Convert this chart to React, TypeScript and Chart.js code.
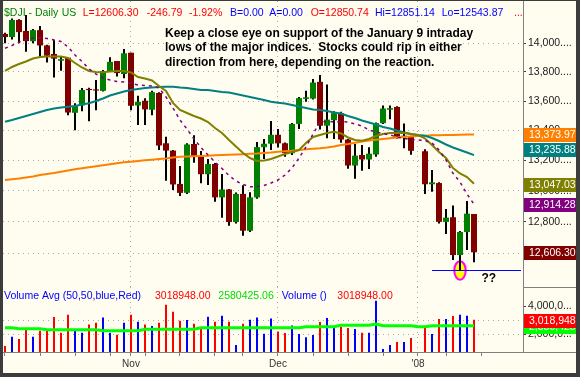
import React, { useEffect, useRef } from 'react';
import { Chart, registerables } from 'chart.js';

Chart.register(...registerables);

const FONT = "'Liberation Sans', Arial, Helvetica, sans-serif";

// ---- data (one slot per trading day; 2008-01-01 is an empty slot on this chart) ----
const dates = [
  '2007-10-08', '2007-10-09', '2007-10-10', '2007-10-11', '2007-10-12',
  '2007-10-15', '2007-10-16', '2007-10-17', '2007-10-18', '2007-10-19',
  '2007-10-22', '2007-10-23', '2007-10-24', '2007-10-25', '2007-10-26',
  '2007-10-29', '2007-10-30', '2007-10-31', '2007-11-01', '2007-11-02',
  '2007-11-05', '2007-11-06', '2007-11-07', '2007-11-08', '2007-11-09',
  '2007-11-12', '2007-11-13', '2007-11-14', '2007-11-15', '2007-11-16',
  '2007-11-19', '2007-11-20', '2007-11-21', '2007-11-23', '2007-11-26',
  '2007-11-27', '2007-11-28', '2007-11-29', '2007-11-30', '2007-12-03',
  '2007-12-04', '2007-12-05', '2007-12-06', '2007-12-07', '2007-12-10',
  '2007-12-11', '2007-12-12', '2007-12-13', '2007-12-14', '2007-12-17',
  '2007-12-18', '2007-12-19', '2007-12-20', '2007-12-21', '2007-12-24',
  '2007-12-26', '2007-12-27', '2007-12-28', '2007-12-31', '2008-01-01',
  '2008-01-02', '2008-01-03', '2008-01-04', '2008-01-07', '2008-01-08',
  '2008-01-09', '2008-01-10', '2008-01-11',
];

const opens = [
  14066, 14044, 14165, 14087, 14015, 14093, 13985, 13925, 13878, 13899,
  13520, 13570, 13683, 13680, 13670, 13802, 13876, 13786, 13934, 13570,
  13602, 13541, 13655, 13315, 13266, 13046, 12988, 13310, 13226, 13110,
  13177, 12958, 13010, 12799, 12981, 12743, 12958, 13289, 13312, 13372,
  13315, 13249, 13445, 13615, 13617, 13732, 13433, 13470, 13518, 13340,
  13167, 13237, 13207, 13240, 13450, 13541, 13560, 13358, 13360, null,
  13262, 13044, 13052, 12800, 12830, 12589, 12735, 12850.74,
];
const highs = [
  14075, 14175, 14170, 14200, 14100, 14122, 13990, 14023, 13906, 13899,
  13585, 13690, 13692, 13745, 13814, 13902, 13876, 13960, 13934, 13636,
  13620, 13670, 13660, 13359, 13270, 13164, 13315, 13368, 13264, 13210,
  13184, 13111, 13013, 12990, 13037, 12992, 13324, 13343, 13465, 13411,
  13320, 13451, 13628, 13670, 13751, 13779, 13713, 13530, 13527, 13343,
  13310, 13303, 13288, 13455, 13570, 13570, 13565, 13448, 13366, null,
  13275, 13137, 13057, 12883, 12905, 12741, 12935, 12851.14,
];
const lows = [
  14000, 14027, 14000, 13941, 14000, 13906, 13865, 13761, 13809, 13504,
  13403, 13530, 13463, 13537, 13665, 13800, 13768, 13757, 13537, 13437,
  13437, 13504, 13270, 13067, 13007, 12967, 12980, 13186, 13050, 13039,
  12930, 12827, 12776, 12790, 12711, 12736, 12950, 13210, 13270, 13286,
  13226, 13237, 13411, 13595, 13610, 13407, 13348, 13343, 13319, 13146,
  13080, 13133, 13144, 13226, 13445, 13476, 13345, 13281, 13239, null,
  12980, 12995, 12790, 12722, 12558, 12492, 12621, 12543.87,
];
const closes = [
  14043.73, 14164.53, 14078.69, 14015.12, 14093.08, 13984.80, 13912.94, 13892.54, 13888.96, 13522.02,
  13566.97, 13676.23, 13675.25, 13671.92, 13806.70, 13870.26, 13792.47, 13930.01, 13567.87, 13595.10,
  13543.40, 13660.94, 13300.02, 13266.29, 13042.74, 12987.55, 13307.09, 13231.01, 13110.05, 13176.79,
  12958.44, 13010.14, 12799.04, 12980.88, 12743.44, 12958.44, 13289.45, 13311.73, 13371.72, 13314.57,
  13248.73, 13444.96, 13619.89, 13625.58, 13727.03, 13432.77, 13473.90, 13517.96, 13339.85, 13167.20,
  13232.47, 13207.27, 13245.64, 13450.65, 13549.33, 13551.69, 13359.61, 13365.87, 13264.82, null,
  13043.96, 13056.72, 12800.18, 12827.49, 12589.07, 12735.31, 12853.09, 12606.30,
];
const priorClose = 14066.01;

const volumes = [
  1140000, 1810000, 1640000, 2360000, 1810000, 2240000, 2340000, 3210000, 2090000, 3380000,
  2290000, 2090000, 2670000, 2810000, 3170000, 2090000, 1950000, 2810000, 3380000, 2880000,
  2670000, 2570000, 2810000, 4090000, 3590000, 2950000, 3000000, 2740000, 2450000, 3240000,
  2880000, 3310000, 2880000, 1210000, 2740000, 3020000, 3170000, 2020000, 3100000, 2170000,
  2070000, 2600000, 2000000, 1760000, 1930000, 2860000, 3140000, 2500000, 2500000, 2430000,
  2360000, 2090000, 2090000, 4380000, 930000, 1210000, 1430000, 1430000, 1710000, null,
  2450000, 2000000, 3070000, 3070000, 3290000, 3380000, 3310000, 3018948,
];
const volumeAvg = [
  2450000, 2450000, 2380000, 2380000, 2380000, 2380000, 2300000, 2300000, 2300000, 2300000,
  2300000, 2300000, 2300000, 2300000, 2240000, 2240000, 2240000, 2240000, 2240000, 2240000,
  2340000, 2340000, 2340000, 2340000, 2340000, 2340000, 2340000, 2340000, 2450000, 2450000,
  2450000, 2450000, 2450000, 2450000, 2450000, 2450000, 2450000, 2450000, 2450000, 2450000,
  2450000, 2450000, 2450000, 2520000, 2520000, 2520000, 2520000, 2520000, 2620000, 2620000,
  2620000, 2620000, 2620000, 2710000, 2590000, 2590000, 2590000, 2590000, 2590000, 2520000,
  2520000, 2590000, 2590000, 2590000, 2590000, 2590000, 2590000, 2580425.06,
];

const sma10 = [
  13965, 13984.6, 14009.1, 14026.7, 14037.2, 14039.3, 14033.7, 14023.1, 14012.6, 13974.1,
  13918, 13872.8, 13820.6, 13786, 13758.4, 13744.6, 13734.2, 13730.8, 13720.4, 13710.1,
  13706.7, 13703.2, 13689.5, 13627.8, 13552.8, 13471.5, 13410.8, 13343.7, 13286.9, 13236.9,
  13190.5, 13147.7, 13101.5, 13065.4, 13042.5, 13028.1, 13028.1, 13036, 13052.3, 13072,
  13104.8, 13150.9, 13217, 13290.2, 13377.2, 13458, 13460, 13460, 13460, 13458,
  13444.5, 13431, 13404.1, 13390.6, 13380.6, 13370.5, 13357.1, 13347.1, 13340.4, 13337,
  13333.7, 13316.9, 13270.2, 13203.7, 13116, 13058.9, 12980.5, 12914.28,
];
const sma20 = [
  13806.8, 13834.5, 13855.3, 13872.8, 13893.7, 13904.1, 13907.6, 13907.6, 13907.6, 13897.1,
  13862.3, 13831, 13806.8, 13799.8, 13797.7, 13803.3, 13806.8, 13806.8, 13796.3, 13765.3,
  13754.9, 13741.1, 13703.2, 13668.9, 13586.9, 13539.2, 13518.8, 13498.5, 13481.6, 13458,
  13417.6, 13383.9, 13337, 13293.6, 13250.2, 13217, 13197.1, 13200.4, 13210.4, 13226.9,
  13243.6, 13256.9, 13270.2, 13316.9, 13357.1, 13370.5, 13383.9, 13392.7, 13380.6, 13353.8,
  13337, 13332.4, 13343.7, 13363.8, 13377.2, 13383.9, 13385.9, 13383.9, 13377.2, 13370.5,
  13347.1, 13303.6, 13256.9, 13217, 13150.9, 13114.7, 13091.7, 13047.03,
];
const sma50 = [
  13460, 13471.5, 13485, 13498.5, 13512, 13525.6, 13539, 13549, 13556, 13561.6,
  13566, 13576.6, 13584.8, 13600.5, 13617.6, 13638, 13651.7, 13665.5, 13675.8, 13682.6,
  13689.5, 13693, 13696.4, 13698.4, 13698.4, 13693, 13689.5, 13682.6, 13675.8, 13675.8,
  13669, 13662, 13658.6, 13648.3, 13638, 13627.8, 13617.6, 13607.4, 13595.7, 13588.9,
  13583.4, 13573.2, 13563, 13552.8, 13542.6, 13539.2, 13532.4, 13522.2, 13515.4, 13498.5,
  13485, 13468.1, 13454.6, 13441.1, 13424.3, 13414.2, 13400.7, 13387.3, 13377.2, 13370.5,
  13365.8, 13350.4, 13330.3, 13306.9, 13286.9, 13270.2, 13253.5, 13235.88,
];
const sma200 = [
  13072, 13076.6, 13081.8, 13088.4, 13095, 13104.8, 13111.4, 13118, 13126.5, 13134.4,
  13142.3, 13149, 13155.5, 13162.1, 13168.7, 13175.3, 13181.9, 13188.5, 13192.5, 13197.1,
  13201.7, 13205.7, 13210.4, 13213.7, 13220.3, 13225.6, 13226.9, 13228.9, 13230.3, 13232.3,
  13234.9, 13236.9, 13238.9, 13240.2, 13242.2, 13244.9, 13246.9, 13250.2, 13253.5, 13258.9,
  13262.2, 13265.5, 13270.2, 13274.9, 13278.9, 13281.6, 13286.9, 13293.6, 13303.6, 13310.2,
  13318.9, 13327, 13333.7, 13339, 13343.7, 13348.4, 13353.8, 13357.1, 13360.5, 13363.8,
  13365.8, 13368.6, 13369.2, 13370.5, 13370.5, 13371.9, 13373.2, 13373.97,
];

const priceTicks = [12600, 12800, 13000, 13200, 13400, 13600, 13800, 14000];
const volumeTicks = [2000000, 3000000, 4000000];
const volumeGridValues = [2000000, 3000000];
const minorTickSlots = [0, 5, 10, 15, 20, 25, 30, 34, 44, 49, 54, 63, 68];
const supportDate = '2008-01-09';
const supportLineStartDate = '2008-01-03';

const noteLines = [
  'Keep a close eye on support of the January 9 intraday',
  'lows of the major indices.  Stocks could rip in either',
  'direction from here, depending on the reaction.',
];

const MONTHS = ['Jan', 'Feb', 'Mar', 'Apr', 'May', 'Jun', 'Jul', 'Aug', 'Sep', 'Oct', 'Nov', 'Dec'];

// ---- helpers ----
const fmt2 = (v: number) =>
  v.toLocaleString('en-US', { minimumFractionDigits: 2, maximumFractionDigits: 2 });
const fmtInt = (v: number) => Math.round(v).toLocaleString('en-US');

const monthTicks = dates
  .map((d, i) => ({ d, i }))
  .filter(({ d, i }) => i > 0 && d.slice(5, 7) !== dates[i - 1].slice(5, 7))
  .map(({ d, i }) => ({
    slot: i,
    label: d.slice(5, 7) === '01' ? "'" + d.slice(2, 4) : MONTHS[Number(d.slice(5, 7)) - 1],
  }));
const monthSlots = monthTicks.map((m) => m.slot);

// axis range (slots)
const X_MIN = -2 / 7;
const X_MAX = 74;

export default function App() {
  const priceRef = useRef<HTMLCanvasElement>(null);
  const volRef = useRef<HTMLCanvasElement>(null);

  useEffect(() => {
    const last = closes.length - 1;
    const series = (arr: (number | null)[]) =>
      arr.map((v, i) => (v == null ? null : { x: i, y: v })).filter(Boolean) as any[];

    const bodyData: any[] = [];
    const bodyColors: string[] = [];
    const wickData: any[] = [];
    opens.forEach((o, i) => {
      if (o == null) return;
      const c = closes[i] as number;
      bodyData.push({ x: i, y: [o, c] });
      bodyColors.push(c >= o ? '#008000' : '#800000');
      wickData.push({ x: i, y: [lows[i], highs[i]] });
    });

    const volData: any[] = [];
    const volColors: string[] = [];
    let prev = priorClose;
    volumes.forEach((v, i) => {
      if (v == null) return;
      const c = closes[i] as number;
      volData.push({ x: i, y: v });
      volColors.push(c >= prev ? '#0000FF' : '#FF0000');
      prev = c;
    });

    const lastClose = closes[last] as number;
    const prevClose = closes[last - 1] as number;
    const chg = lastClose - prevClose;
    const pct = (chg / prevClose) * 100;

    const headerParts = [
      { text: '$DJI - Daily', color: '#008000', x: 1 },
      { text: 'US', color: '#008000', x: 58.7 },
      { text: 'L=' + lastClose.toFixed(2), color: '#FF0000', x: 79.7 },
      { text: chg.toFixed(2), color: '#FF0000', x: 143.7 },
      { text: pct.toFixed(2) + '%', color: '#FF0000', x: 186 },
      { text: 'B=0.00', color: '#0000FF', x: 227 },
      { text: 'A=0.00', color: '#0000FF', x: 266.3 },
      { text: 'O=' + (opens[last] as number).toFixed(2), color: '#FF0000', x: 307.7 },
      { text: 'Hi=' + (highs[last] as number).toFixed(2), color: '#0000FF', x: 372 },
      { text: 'Lo=' + (lows[last] as number).toFixed(2), color: '#0000FF', x: 438.7 },
      { text: '...', color: '#FF0000', x: 511 },
    ];

    const priceBoxes = [
      { value: sma200[last], color: '#FF8000', shift: 0 },
      { value: sma50[last], color: '#008080', shift: -6.5 },
      { value: sma20[last], color: '#808000', shift: 0 },
      { value: sma10[last], color: '#800080', shift: 0 },
      { value: lastClose, color: '#800000', shift: 0 },
    ];

    const pricePlugin = {
      id: 'priceDecor',
      beforeDatasetsDraw(chart: any) {
        const { ctx, chartArea } = chart;
        const x = chart.scales.x;
        const y = chart.scales.y;
        const si = dates.indexOf(supportDate);
        const s0 = dates.indexOf(supportLineStartDate);
        const sy = y.getPixelForValue(lows[si]);
        const sx = x.getPixelForValue(si);
        ctx.save();
        ctx.beginPath();
        ctx.ellipse(sx, sy, 5.7, 9.3, 0, 0, Math.PI * 2);
        ctx.fillStyle = '#FFFF00';
        ctx.fill();
        ctx.lineWidth = 2;
        ctx.strokeStyle = '#FF00FF';
        ctx.stroke();
        const ly = Math.round(sy) + 0.5;
        ctx.beginPath();
        ctx.moveTo(x.getPixelForValue(s0), ly);
        ctx.lineTo(chartArea.right - 2, ly);
        ctx.lineWidth = 1;
        ctx.strokeStyle = '#0000FF';
        ctx.stroke();
        ctx.restore();
      },
      afterDraw(chart: any) {
        const { ctx, chartArea } = chart;
        const y = chart.scales.y;
        ctx.save();
        ctx.textAlign = 'left';
        ctx.textBaseline = 'alphabetic';
        ctx.font = `10.5px ${FONT}`;
        headerParts.forEach((p) => {
          ctx.fillStyle = p.color;
          ctx.fillText(p.text, p.x, 14.8);
        });
        ctx.font = `bold 12px ${FONT}`;
        ctx.fillStyle = '#000000';
        noteLines.forEach((t, k) => ctx.fillText(t, 162, 35.6 + k * 14.65));
        ctx.fillText('??', 478.5, 280.9);
        // value boxes on the right axis
        ctx.font = `10.5px ${FONT}`;
        ctx.textBaseline = 'middle';
        priceBoxes.forEach((b) => {
          const py = y.getPixelForValue(b.value) + b.shift;
          const top = Math.round(py - 6);
          ctx.fillStyle = b.color;
          ctx.fillRect(chartArea.right + 1, top, chart.width - chartArea.right - 1, 14);
          ctx.fillStyle = '#FFFFFF';
          ctx.fillText(fmt2(b.value), chartArea.right + 6, top + 7.5);
        });
        ctx.restore();
      },
    };

    const gridColor = '#A8A8A8';

    const priceChart = new Chart(priceRef.current as HTMLCanvasElement, {
      type: 'bar',
      data: {
        datasets: [
          {
            type: 'line', label: 'SMA10', data: series(sma10), borderColor: '#800080',
            borderWidth: 1.5, borderDash: [3, 4], pointRadius: 0, tension: 0, order: 1,
          },
          {
            type: 'line', label: 'SMA20', data: series(sma20), borderColor: '#808000',
            borderWidth: 2, pointRadius: 0, tension: 0, order: 2,
          },
          {
            type: 'line', label: 'SMA50', data: series(sma50), borderColor: '#008080',
            borderWidth: 2, pointRadius: 0, tension: 0, order: 3,
          },
          {
            type: 'line', label: 'SMA200', data: series(sma200), borderColor: '#FF8000',
            borderWidth: 2, pointRadius: 0, tension: 0, order: 4,
          },
          {
            type: 'bar', label: 'Body', data: bodyData, backgroundColor: bodyColors,
            barThickness: 6, grouped: false, minBarLength: 1, inflateAmount: 0, order: 5,
          },
          {
            type: 'bar', label: 'Wick', data: wickData, backgroundColor: '#000000',
            barThickness: 2, grouped: false, inflateAmount: 0, order: 6,
          },
        ] as any,
      },
      options: {
        animation: false,
        responsive: false,
        devicePixelRatio: 1,
        events: [],
        layout: { padding: 0, autoPadding: false } as any,
        plugins: { legend: { display: false }, tooltip: { enabled: false } },
        scales: {
          x: {
            type: 'linear', min: X_MIN, max: X_MAX, offset: false, bounds: 'data',
            afterBuildTicks: (s: any) => { s.ticks = monthSlots.map((v) => ({ value: v })); },
            afterFit: (s: any) => { s.height = 0; s.paddingLeft = 0; s.paddingRight = 0; },
            ticks: { display: false },
            grid: { display: true, drawTicks: false, offset: false, color: gridColor, lineWidth: 1 },
            border: { display: false, dash: [1, 4] },
          },
          y: {
            type: 'logarithmic', position: 'right', min: 12388.6, max: 14300.3,
            bounds: 'data', beginAtZero: false,
            afterBuildTicks: (s: any) => { s.ticks = priceTicks.map((v) => ({ value: v })); },
            afterFit: (s: any) => { s.width = 53; s.paddingTop = 0; s.paddingBottom = 0; },
            ticks: {
              autoSkip: false, padding: 2, color: '#1a1a1a',
              font: { family: FONT, size: 10.5 },
              callback: (v: any) => fmtInt(Number(v)) + '....',
            },
            grid: { color: gridColor, drawTicks: true, tickLength: 3, tickColor: '#404040', lineWidth: 1 },
            border: { display: true, color: '#808080', width: 1, dash: [1, 4] },
          },
        } as any,
      },
      plugins: [pricePlugin],
    });

    const volPlugin = {
      id: 'volDecor',
      afterDraw(chart: any) {
        const { ctx, chartArea } = chart;
        const y = chart.scales.y;
        ctx.save();
        ctx.textAlign = 'left';
        ctx.textBaseline = 'alphabetic';
        ctx.font = `10.5px ${FONT}`;
        const lastVol = volumes[last] as number;
        const lastAvg = volumeAvg[last];
        const parts = [
          { text: 'Volume Avg (50,50,blue,Red)', color: '#0000FF', x: 1 },
          { text: lastVol.toFixed(2), color: '#FF0000', x: 152 },
          { text: lastAvg.toFixed(2), color: '#00DD00', x: 215.3 },
          { text: 'Volume ()', color: '#0000FF', x: 278.7 },
          { text: lastVol.toFixed(2), color: '#FF0000', x: 334.3 },
        ];
        parts.forEach((p) => { ctx.fillStyle = p.color; ctx.fillText(p.text, p.x, 12.2); });

        // axis frame pieces
        ctx.strokeStyle = '#808080';
        ctx.lineWidth = 1;
        ctx.beginPath();
        ctx.moveTo(chartArea.right, 0.5);
        ctx.lineTo(chart.width, 0.5);
        const by = Math.floor(chartArea.bottom) + 0.5;
        ctx.moveTo(chartArea.right, by);
        ctx.lineTo(chart.width, by);
        ctx.stroke();

        // value boxes
        ctx.textBaseline = 'middle';
        const boxes = [
          { value: lastAvg, color: '#00FF00' },
          { value: lastVol, color: '#FF0000' },
        ];
        boxes.forEach((b) => {
          const py = y.getPixelForValue(b.value);
          const top = Math.round(py - 6);
          ctx.fillStyle = b.color;
          ctx.fillRect(chartArea.right + 1, top, chart.width - chartArea.right - 1, 14);
          ctx.fillStyle = '#FFFFFF';
          ctx.fillText(fmtInt(b.value), chartArea.right + 6, top + 7.5);
        });
        ctx.restore();
      },
    };

    const allXTicks = [...minorTickSlots, ...monthSlots].sort((a, b) => a - b);
    const monthLabelFor = (v: number) => {
      const m = monthTicks.find((t) => t.slot === v);
      return m ? m.label : '';
    };

    const volChart = new Chart(volRef.current as HTMLCanvasElement, {
      type: 'bar',
      data: {
        datasets: [
          {
            type: 'line', label: 'Volume Avg', data: series(volumeAvg), borderColor: '#00FF00',
            borderWidth: 3, pointRadius: 0, tension: 0, order: 1,
          },
          {
            type: 'bar', label: 'Volume', data: volData, backgroundColor: volColors,
            barThickness: 2, grouped: false, inflateAmount: 0, order: 2,
          },
        ] as any,
      },
      options: {
        animation: false,
        responsive: false,
        devicePixelRatio: 1,
        events: [],
        layout: { padding: 0, autoPadding: false } as any,
        plugins: { legend: { display: false }, tooltip: { enabled: false } },
        scales: {
          x: {
            type: 'linear', min: X_MIN, max: X_MAX, offset: false, bounds: 'data',
            afterBuildTicks: (s: any) => { s.ticks = allXTicks.map((v) => ({ value: v })); },
            afterFit: (s: any) => { s.height = 21; s.paddingLeft = 0; s.paddingRight = 0; },
            ticks: {
              autoSkip: false, maxRotation: 0, minRotation: 0, padding: 2, color: '#333333',
              font: { family: FONT, size: 10 },
              callback: (v: any) => monthLabelFor(Number(v)),
            },
            grid: {
              display: true, offset: false, drawTicks: true, tickLength: 4, tickColor: '#808080',
              color: (c: any) => (c.tick && monthSlots.includes(c.tick.value) ? gridColor : 'rgba(0,0,0,0)'),
            },
            border: { display: true, color: '#808080', width: 1, dash: [1, 4] },
          },
          y: {
            type: 'linear', position: 'right', min: 714286, max: 5357143, bounds: 'data',
            beginAtZero: false,
            afterBuildTicks: (s: any) => { s.ticks = volumeTicks.map((v) => ({ value: v })); },
            afterFit: (s: any) => { s.width = 53; s.paddingTop = 0; s.paddingBottom = 0; },
            ticks: {
              autoSkip: false, padding: 2, color: '#1a1a1a',
              font: { family: FONT, size: 10.5 },
              callback: (v: any) => fmtInt(Number(v)).slice(0, 7) + '...',
            },
            grid: {
              drawTicks: true, tickLength: 3, tickColor: '#404040',
              color: (c: any) => (c.tick && volumeGridValues.includes(c.tick.value) ? gridColor : 'rgba(0,0,0,0)'),
            },
            border: { display: true, color: '#808080', width: 1, dash: [1, 4] },
          },
        } as any,
      },
      plugins: [volPlugin],
    });

    return () => {
      priceChart.destroy();
      volChart.destroy();
    };
  }, []);

  return (
    <div style={{ position: 'fixed', left: 0, top: 0, width: 580, height: 377, background: '#3c3c3c', overflow: 'hidden' }}>
      <div style={{ position: 'absolute', left: 3, top: 1, width: 573, height: 372, background: '#FFFCF0' }} />
      <canvas ref={priceRef} width={573} height={286} style={{ position: 'absolute', left: 3, top: 1, width: 573, height: 286 }} />
      <canvas ref={volRef} width={573} height={86} style={{ position: 'absolute', left: 3, top: 287, width: 573, height: 86 }} />
    </div>
  );
}
